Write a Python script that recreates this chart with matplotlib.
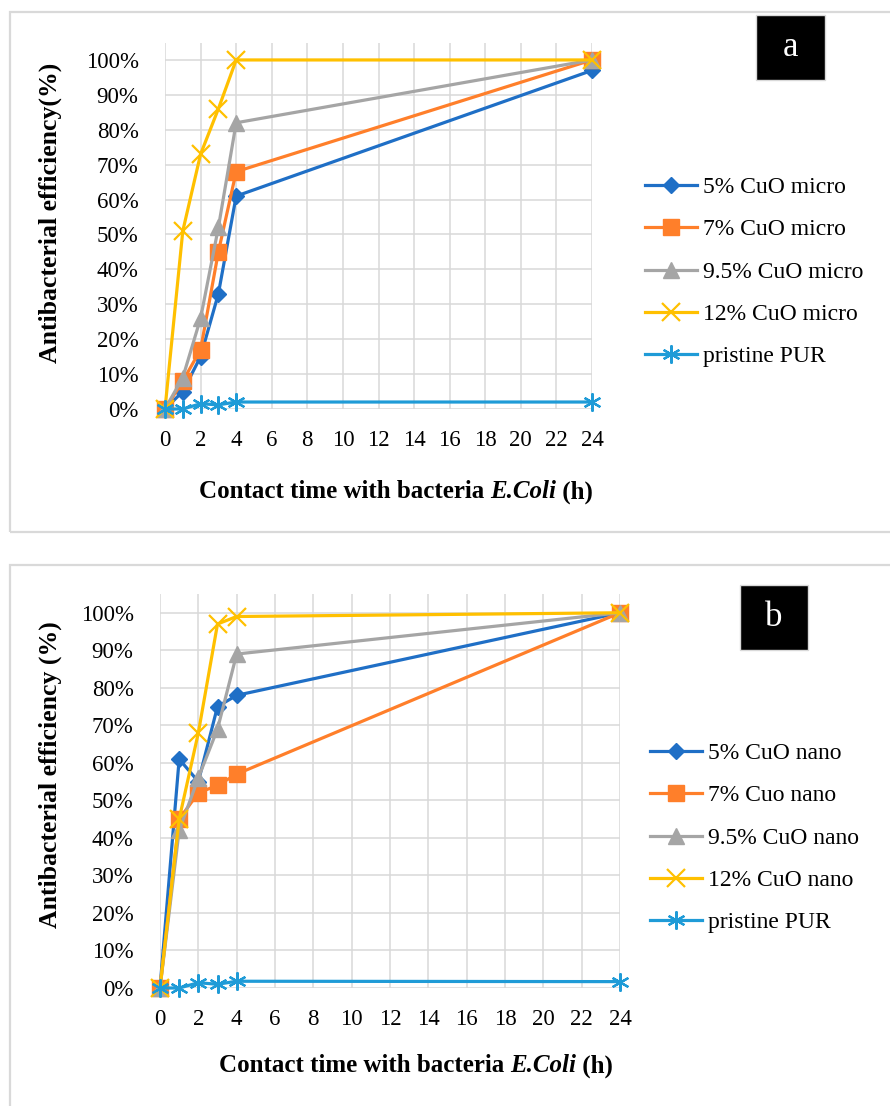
import matplotlib
matplotlib.use('Agg')
import matplotlib.pyplot as plt
from matplotlib.patches import Rectangle
from matplotlib.ticker import PercentFormatter

plt.rcParams['font.family'] = 'Liberation Serif'

# contact time (h)
hours = [0, 1, 2, 3, 4, 24]
xticks = list(range(0, 25, 2))
yticks = [i / 10 for i in range(11)]

# panel a - micro particles
labels_a = ['5% CuO micro', '7% CuO micro', '9.5% CuO micro', '12% CuO micro', 'pristine PUR']
micro5 = [0, 0.05, 0.15, 0.33, 0.61, 0.97]
micro7 = [0, 0.08, 0.17, 0.45, 0.68, 1.00]
micro95 = [0, 0.09, 0.26, 0.52, 0.82, 1.00]
micro12 = [0, 0.51, 0.73, 0.86, 1.00, 1.00]
pur_a = [0, 0.0, 0.015, 0.012, 0.02, 0.02]

# panel b - nano particles
labels_b = ['5% CuO nano', '7% Cuo nano', '9.5% CuO nano', '12% CuO nano', 'pristine PUR']
nano5 = [0, 0.61, 0.55, 0.75, 0.78, 1.00]
nano7 = [0, 0.45, 0.52, 0.54, 0.57, 1.00]
nano95 = [0, 0.42, 0.56, 0.69, 0.89, 1.00]
nano12 = [0, 0.45, 0.68, 0.97, 0.99, 1.00]
pur_b = [0, 0.0, 0.014, 0.01, 0.018, 0.017]

colors = ['#1F6FC6', '#FF7F2A', '#A5A5A5', '#FFC000', '#1F9BD7']
markers = ['D', 's', '^', 'x', (6, 2, 0)]
msizes = [8, 11, 11, 13, 13]

W, H = 890, 1106
fig = plt.figure(figsize=(W / 100, H / 100), dpi=100)


def px_axes(left, top, right, bottom):
    return fig.add_axes([left / W, 1 - bottom / H, (right - left) / W, (bottom - top) / H])


def frame(x0, y0, x1, y1):
    fig.patches.append(Rectangle((x0 / W, 1 - y1 / H), (x1 - x0) / W, (y1 - y0) / H,
                                 transform=fig.transFigure, fill=False,
                                 edgecolor='#D9D9D9', linewidth=1.6))


def tag(x0, y0, x1, y1, txt):
    fig.patches.append(Rectangle((x0 / W, 1 - y1 / H), (x1 - x0) / W, (y1 - y0) / H,
                                 transform=fig.transFigure, facecolor='black',
                                 edgecolor='#D9D9D9', linewidth=1))
    fig.text((x0 + x1) / 2 / W, 1 - (y0 + y1) / 2 / H, txt, color='white',
             fontsize=25, ha='center', va='center')


def xlabel(cx, cy):
    # bold label with italic species name, pieces chained one after another
    kw = dict(fontsize=18, fontweight='bold')
    t1 = fig.text(0, 0, 'Contact time with bacteria ', va='center', **kw)
    t2 = fig.text(0, 0, 'E.Coli', style='italic', va='center', **kw)
    t3 = fig.text(0, 0, ' (h)', va='center', **kw)
    r = fig.canvas.get_renderer()
    ws = [t.get_window_extent(r).width for t in (t1, t2, t3)]
    x = cx - sum(ws) / 2
    for t, w in zip((t1, t2, t3), ws):
        t.set_position((x / W, 1 - cy / H))
        x += w


def draw(ax, series, labels, ylab, ylab_pos, leg_pos):
    for i, ys in enumerate(series):
        ax.plot(hours, ys, color=colors[i], linewidth=2.3, marker=markers[i],
                markersize=msizes[i], markeredgewidth=1.6 if i >= 3 else 1,
                markerfacecolor=colors[i], markeredgecolor=colors[i],
                label=labels[i], clip_on=False, zorder=3 + i)
    ax.set_xlim(0, 24)
    ax.set_ylim(0, 1.05)
    ax.set_xticks(xticks)
    ax.set_yticks(yticks)
    ax.yaxis.set_major_formatter(PercentFormatter(1.0, decimals=0))
    ax.grid(True, color='#D9D9D9', linewidth=1.1)
    ax.set_axisbelow(True)
    for s in ax.spines.values():
        s.set_visible(False)
    ax.tick_params(length=0, labelsize=16.5)
    ax.tick_params(axis='y', pad=19)
    ax.tick_params(axis='x', pad=15)
    ax.set_ylabel(ylab, fontsize=18.5, fontweight='bold')
    ax.yaxis.set_label_coords(*ylab_pos)
    ax.legend(loc='center left', bbox_to_anchor=leg_pos, frameon=False,
              fontsize=17, handlelength=2.2, handletextpad=0.25,
              labelspacing=0.88, borderpad=0, borderaxespad=0)


frame(10, 12, 900, 532)
frame(10, 565, 900, 1120)

# panel a
axa = px_axes(165, 42.5, 592, 409)
draw(axa, [micro5, micro7, micro95, micro12, pur_a], labels_a,
     'Antibacterial efficiency(%)',
     ((62 - 165) / 427, (409 - 213) / 366.5),
     ((645 - 165) / 427, (409 - 272) / 366.5))
xlabel(396, 492)
tag(756, 15, 825, 80, 'a')

# panel b
axb = px_axes(160, 594, 620, 988)
draw(axb, [nano5, nano7, nano95, nano12, pur_b], labels_b,
     'Antibacterial efficiency (%)',
     ((62 - 160) / 460, (988 - 775) / 394),
     ((650 - 160) / 460, (988 - 838) / 394))
xlabel(416, 1066)
tag(740, 585, 808, 650, 'b')

fig.savefig('out.png', dpi=100)
